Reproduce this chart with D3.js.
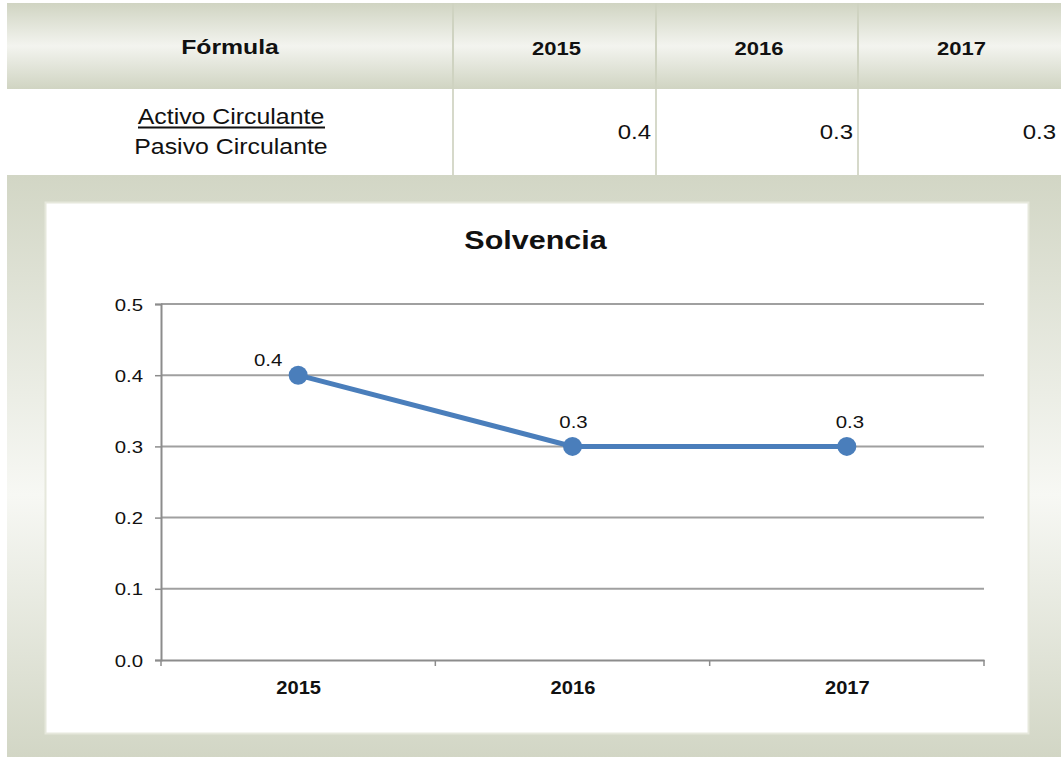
<!DOCTYPE html>
<html lang="es">
<head>
  <meta charset="UTF-8">
  <title>Solvencia</title>
  <script src="https://d3js.org/d3.v7.min.js"></script>
  <style>
    body { margin: 0; padding: 0; background: #ffffff; }
    svg { display: block; font-family: 'Liberation Sans', Arial, sans-serif; }
  </style>
</head>
<body>
<svg id="chart" width="1061" height="757"></svg>
<script>
  // données
  const years = ["2015", "2016", "2017"];
  const values = [0.4, 0.3, 0.3];
  const yTicks = [0.0, 0.1, 0.2, 0.3, 0.4, 0.5];
  const tableHeader = ["Fórmula", "2015", "2016", "2017"];
  const formulaTop = "Activo Circulante";
  const formulaBottom = "Pasivo Circulante";

  const svg = d3.select("#chart");
  const defs = svg.append("defs");

  // texte étiré horizontalement (le rendu d'origine est plus large)
  function stretchText(parent, x, y, txt, size, sx, anchor, bold) {
    return parent.append("text")
      .attr("transform", `translate(${x},${y}) scale(${sx},1)`)
      .attr("text-anchor", anchor)
      .style("font-size", size + "px")
      .style("font-weight", bold ? "bold" : "normal")
      .style("fill", "#111")
      .text(txt);
  }

  // dégradés
  const hg = defs.append("linearGradient").attr("id", "hdr").attr("x1", 0).attr("y1", 0).attr("x2", 0).attr("y2", 1);
  hg.append("stop").attr("offset", "0%").attr("stop-color", "#d0d4c2");
  hg.append("stop").attr("offset", "50%").attr("stop-color", "#f3f4ef");
  hg.append("stop").attr("offset", "100%").attr("stop-color", "#d0d4c2");

  const pg = defs.append("linearGradient").attr("id", "panel").attr("x1", 0).attr("y1", 0).attr("x2", 0).attr("y2", 1);
  pg.append("stop").attr("offset", "0%").attr("stop-color", "#d2d6c5");
  pg.append("stop").attr("offset", "55%").attr("stop-color", "#f7f8f4");
  pg.append("stop").attr("offset", "100%").attr("stop-color", "#d2d6c5");

  // ---- tableau ----
  const colX = [7, 453, 656, 858, 1061];

  svg.append("rect").attr("x", 7).attr("y", 3).attr("width", 1054).attr("height", 86).attr("fill", "url(#hdr)");
  svg.append("rect").attr("x", 7).attr("y", 89).attr("width", 1054).attr("height", 86).attr("fill", "#ffffff");

  colX.slice(1, 4).forEach(x => {
    svg.append("line").attr("x1", x).attr("x2", x).attr("y1", 3).attr("y2", 89)
      .attr("stroke", "#cfd3c1").attr("stroke-width", 2);
    svg.append("line").attr("x1", x).attr("x2", x).attr("y1", 89).attr("y2", 175)
      .attr("stroke", "#d6d9ca").attr("stroke-width", 2);
  });

  stretchText(svg, 230, 54, tableHeader[0], 21, 1.18, "middle", true);
  tableHeader.slice(1).forEach((t, i) => {
    stretchText(svg, (colX[i + 1] + colX[i + 2]) / 2 + 2, 55, t, 19, 1.16, "middle", true);
  });

  stretchText(svg, 231, 124, formulaTop, 22, 1.13, "middle", false);
  svg.append("line").attr("x1", 138).attr("x2", 325).attr("y1", 127.5).attr("y2", 127.5)
    .attr("stroke", "#111").attr("stroke-width", 2);
  stretchText(svg, 231, 154, formulaBottom, 22, 1.13, "middle", false);

  values.forEach((v, i) => {
    stretchText(svg, colX[i + 2] - 5, 139, v.toFixed(1), 20, 1.2, "end", false);
  });

  // ---- panneau du graphique ----
  svg.append("rect").attr("x", 7).attr("y", 175).attr("width", 1054).attr("height", 582).attr("fill", "url(#panel)");
  svg.append("rect").attr("x", 45.5).attr("y", 202.5).attr("width", 983).attr("height", 531)
    .attr("fill", "#ffffff").attr("stroke", "#e6e8dc").attr("stroke-width", 2);

  const margin = { left: 161, right: 984, top: 304, bottom: 660 };

  const x = d3.scaleBand().domain(years).range([margin.left, margin.right]);
  const y = d3.scaleLinear().domain([0, 0.5]).range([margin.bottom, margin.top]);

  stretchText(svg, 535.5, 249, "Solvencia", 25, 1.22, "middle", true);

  // grille
  svg.append("g")
    .selectAll("line")
    .data(yTicks.filter(d => d > 0))
    .join("line")
    .attr("x1", margin.left).attr("x2", margin.right)
    .attr("y1", d => y(d)).attr("y2", d => y(d))
    .attr("stroke", "#a0a0a0").attr("stroke-width", 2);

  // axe Y
  const yAxis = svg.append("g")
    .attr("transform", `translate(${margin.left},0)`)
    .call(d3.axisLeft(y).tickValues(yTicks).tickFormat(d3.format(".1f")).tickSize(6));
  yAxis.select(".domain").attr("stroke", "#8c8c8c").attr("stroke-width", 2);
  yAxis.selectAll(".tick line").attr("stroke", "#8c8c8c").attr("stroke-width", 1.5);
  yAxis.selectAll(".tick text").remove();
  yAxis.selectAll(".tick").each(function (d) {
    stretchText(d3.select(this), -18, 6, d3.format(".1f")(d), 17, 1.2, "end", false)
      .style("font-family", "'Liberation Sans', Arial, sans-serif");
  });

  // axe X
  const xAxis = svg.append("g")
    .attr("transform", `translate(0,${margin.bottom})`)
    .call(d3.axisBottom(x).tickSize(0));
  xAxis.select(".domain").attr("stroke", "#8c8c8c").attr("stroke-width", 2);
  xAxis.selectAll(".tick text").remove();
  xAxis.selectAll(".tick").each(function (d) {
    stretchText(d3.select(this), 0.5, 34, d, 19, 1.06, "middle", true)
      .style("font-family", "'Liberation Sans', Arial, sans-serif");
  });

  // graduations entre catégories
  const bounds = years.map(d => x(d)).concat([margin.right]);
  svg.append("g")
    .selectAll("line")
    .data(bounds)
    .join("line")
    .attr("x1", d => d).attr("x2", d => d)
    .attr("y1", margin.bottom).attr("y2", margin.bottom + 6)
    .attr("stroke", "#8c8c8c").attr("stroke-width", 1.5);

  // série
  const cx = d => x(d) + x.bandwidth() / 2;
  const data = years.map((yr, i) => ({ yr, v: values[i] }));

  svg.append("path")
    .datum(data)
    .attr("fill", "none")
    .attr("stroke", "#4a7ebb")
    .attr("stroke-width", 5)
    .attr("d", d3.line().x(d => cx(d.yr)).y(d => y(d.v)));

  svg.append("g")
    .selectAll("circle")
    .data(data)
    .join("circle")
    .attr("cx", d => cx(d.yr))
    .attr("cy", d => y(d.v))
    .attr("r", 9.5)
    .attr("fill", "#4a7ebb");

  // étiquettes (la première est décalée à gauche)
  const labelDx = [-30, 1, 3];
  const labelDy = [-9, -18, -18];
  const labels = svg.append("g");
  data.forEach((d, i) => {
    stretchText(labels, cx(d.yr) + labelDx[i], y(d.v) + labelDy[i], d.v.toFixed(1), 17, 1.2, "middle", false);
  });
</script>
</body>
</html>
